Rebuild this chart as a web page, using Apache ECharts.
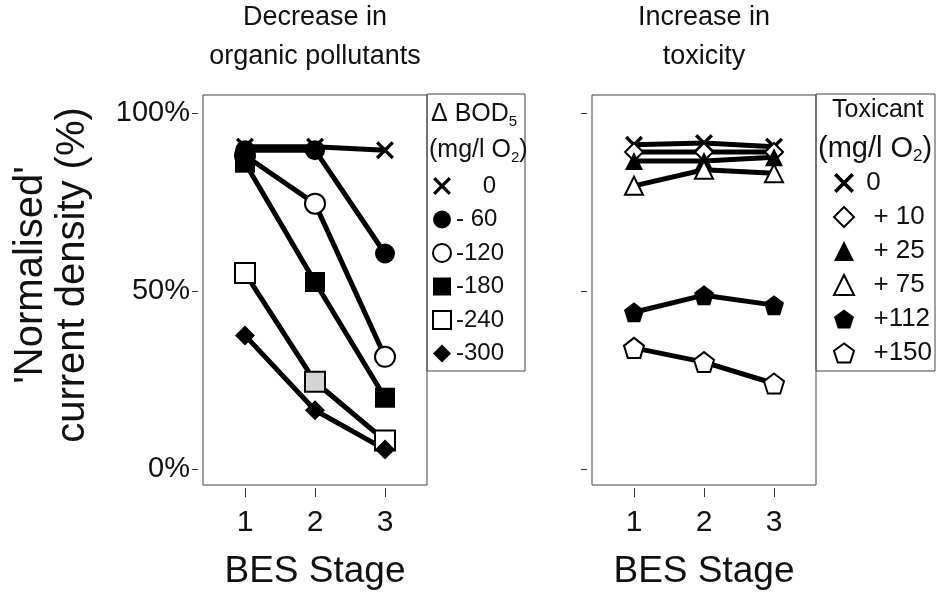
<!DOCTYPE html>
<html>
<head>
<meta charset="utf-8">
<script src="https://cdn.jsdelivr.net/npm/echarts@6/dist/echarts.min.js"></script>
<style>
  html, body { margin: 0; padding: 0; background: #fff; }
  #chart { width: 937px; height: 598px; }
</style>
</head>
<body>
<div id="chart"></div>
<script>
// BES stage on the x axis
const STAGES = [1, 2, 3]
const Y_TICKS = [0, 50, 100]

// left panel: decrease in organic pollutants (delta BOD5, mg/l O2)
const BOD_LABELS = ['    0', '- 60', '-120', '-180', '-240', '-300']
const BOD_0 = [90.5, 90.5, 89.5]
const BOD_60 = [89.5, 89.5, 60.5]
const BOD_120 = [88, 74.5, 31.5]
const BOD_180 = [86, 52.5, 20]
const BOD_240 = [55, 24.5, 8]
const BOD_300 = [37.5, 16.5, 5.5]

// right panel: increase in toxicity (toxicant, mg/l O2)
const TOX_LABELS = [' 0', '  + 10', '  + 25', '  + 75', '  +112', '  +150']
const TOX_0 = [91, 91.5, 90.5]
const TOX_10 = [89, 89, 89]
const TOX_25 = [86.5, 86.5, 87.5]
const TOX_75 = [79.5, 84, 83]
const TOX_112 = [44, 48.8, 46]
const TOX_150 = [34, 30, 24]

const FONT = '"Liberation Sans", Arial, sans-serif'
const CROSS = 'path://M1.3,0L5,3.7L8.7,0L10,1.3L6.3,5L10,8.7L8.7,10L5,6.3L1.3,10L0,8.7L3.7,5L0,1.3Z'
const PENTA = 'path://M5,0L10,3.7L8.1,9.6L1.9,9.6L0,3.7Z'

const filled = { color: '#000' }
const open = { color: '#fff', borderColor: '#000', borderWidth: 2 }

function makeSeries (id, values, symbol, size, style, axis) {
  return {
    name: id,
    type: 'line',
    xAxisIndex: axis,
    yAxisIndex: axis,
    data: values.map((v, i) => [STAGES[i], v]),
    symbol,
    symbolSize: size,
    showSymbol: true,
    lineStyle: { color: '#000', width: 5 },
    itemStyle: style,
    emphasis: { disabled: true },
    animation: false
  }
}

const leftDefs = [
  ['b0', BOD_0, CROSS, 18, filled],
  ['b60', BOD_60, 'circle', 20, filled],
  ['b120', BOD_120, 'circle', 20, open],
  ['b180', BOD_180, 'rect', 20, filled],
  ['b240', BOD_240, 'rect', 20, open],
  ['b300', BOD_300, 'diamond', 20, filled]
]
const rightDefs = [
  ['t0', TOX_0, CROSS, 18, filled],
  ['t10', TOX_10, 'diamond', 18, open],
  ['t25', TOX_25, 'triangle', 18, filled],
  ['t75', TOX_75, 'triangle', 18, open],
  ['t112', TOX_112, PENTA, 20, filled],
  ['t150', TOX_150, PENTA, 20, open]
]

// draw order: the open -120 circle sits underneath the stage 1 cluster
const leftOrder = [2, 0, 1, 3, 4, 5]
const series = []
leftOrder.forEach(i => {
  const d = leftDefs[i]
  const s = makeSeries(d[0], d[1], d[2], d[3], d[4], 0)
  // the -240 point at stage 2 is shaded grey in the original
  if (d[0] === 'b240') s.data[1] = { value: s.data[1], itemStyle: { color: '#d4d4d4' } }
  series.push(s)
})
rightDefs.forEach(d => series.push(makeSeries(d[0], d[1], d[2], d[3], d[4], 1)))

function xAxisFor (gridIndex) {
  return {
    type: 'value',
    gridIndex,
    min: 0.4,
    max: 3.6,
    offset: 3,
    name: 'BES Stage',
    nameLocation: 'middle',
    nameGap: 65,
    nameTextStyle: { fontFamily: FONT, fontSize: 37, color: '#111' },
    axisLine: { show: false, onZero: false },
    axisTick: { show: true, length: 9, customValues: STAGES, lineStyle: { color: '#333' } },
    axisLabel: { customValues: STAGES, margin: 20, fontFamily: FONT, fontSize: 30, color: '#111' },
    splitLine: { show: false }
  }
}

function yAxisFor (gridIndex, withLabels) {
  return {
    type: 'value',
    gridIndex,
    min: -4.5,
    max: 105,
    offset: 5,
    name: withLabels ? '\'Normalised\'\ncurrent density (%)' : '',
    nameLocation: 'middle',
    nameRotate: 90,
    nameGap: 104,
    nameTextStyle: { fontFamily: FONT, fontSize: 40, lineHeight: 42, color: '#111', padding: [0, 0, 0, 30] },
    axisLine: { show: false, onZero: false },
    axisTick: { show: true, length: 6, customValues: Y_TICKS, lineStyle: { color: '#333' } },
    axisLabel: {
      show: withLabels,
      customValues: Y_TICKS,
      formatter: '{value}%',
      margin: 8,
      fontFamily: FONT,
      fontSize: 29,
      color: '#111'
    },
    splitLine: { show: false }
  }
}

function legendFor (defs, labels, left, top, size, fontSize, gap) {
  return {
    orient: 'vertical',
    left,
    top,
    padding: 0,
    itemWidth: size,
    itemHeight: size,
    itemGap: gap,
    selectedMode: false,
    data: defs.map(d => ({ name: d[0], icon: d[2] })),
    formatter: name => labels[defs.findIndex(d => d[0] === name)],
    textStyle: { fontFamily: FONT, fontSize, lineHeight: 26, color: '#111' }
  }
}

function richFor (size) {
  return {
    a: { fontFamily: FONT, fontSize: size, fontWeight: 'normal', color: '#111' },
    s: { fontFamily: FONT, fontSize: Math.round(size * 0.6), fontWeight: 'normal', color: '#111', padding: [Math.round(size * 0.55), 0, 0, 0] }
  }
}

const chart = echarts.init(document.getElementById('chart'))
chart.setOption({
  backgroundColor: '#fff',
  animation: false,
  title: [
    {
      text: 'Decrease in\norganic pollutants',
      left: 315, top: -2, padding: 0, textAlign: 'center',
      textStyle: { fontFamily: FONT, fontSize: 27, fontWeight: 'normal', lineHeight: 39, color: '#111' }
    },
    {
      text: 'Increase in\ntoxicity',
      left: 704, top: -2, padding: 0, textAlign: 'center',
      textStyle: { fontFamily: FONT, fontSize: 27, fontWeight: 'normal', lineHeight: 39, color: '#111' }
    },
    { text: '{a|\u0394 BOD}{s|5}', left: 431, top: 100, padding: 0, textStyle: { fontWeight: 'normal', rich: richFor(25) } },
    { text: '{a|(mg/l O}{s|2}{a|)}', left: 429, top: 136, padding: 0, textStyle: { fontWeight: 'normal', rich: richFor(25) } },
    { text: '{a|Toxicant}', left: 832, top: 98, padding: 0, textStyle: { fontWeight: 'normal', rich: richFor(25) } },
    { text: '{a|(mg/l O}{s|2}{a|)}', left: 818, top: 132, padding: 0, textStyle: { fontWeight: 'normal', rich: richFor(29) } }
  ],
  graphic: [
    { type: 'rect', shape: { x: 427, y: 94, width: 98, height: 277 }, style: { fill: 'none', stroke: '#444', lineWidth: 1 }, silent: true },
    { type: 'rect', shape: { x: 816, y: 94, width: 119, height: 277 }, style: { fill: 'none', stroke: '#444', lineWidth: 1 }, silent: true }
  ],
  grid: [
    { left: 203, right: 510, top: 95, bottom: 113, show: true, borderColor: '#444', borderWidth: 1 },
    { left: 592, right: 121, top: 95, bottom: 113, show: true, borderColor: '#444', borderWidth: 1 }
  ],
  xAxis: [xAxisFor(0), xAxisFor(1)],
  yAxis: [yAxisFor(0, true), yAxisFor(1, false)],
  legend: [
    legendFor(leftDefs, BOD_LABELS, 432, 173, 18, 24, 7.5),
    legendFor(rightDefs, TOX_LABELS, 833, 170, 20, 26, 8)
  ],
  series
})
window.addEventListener('resize', () => chart.resize())
</script>
</body>
</html>
